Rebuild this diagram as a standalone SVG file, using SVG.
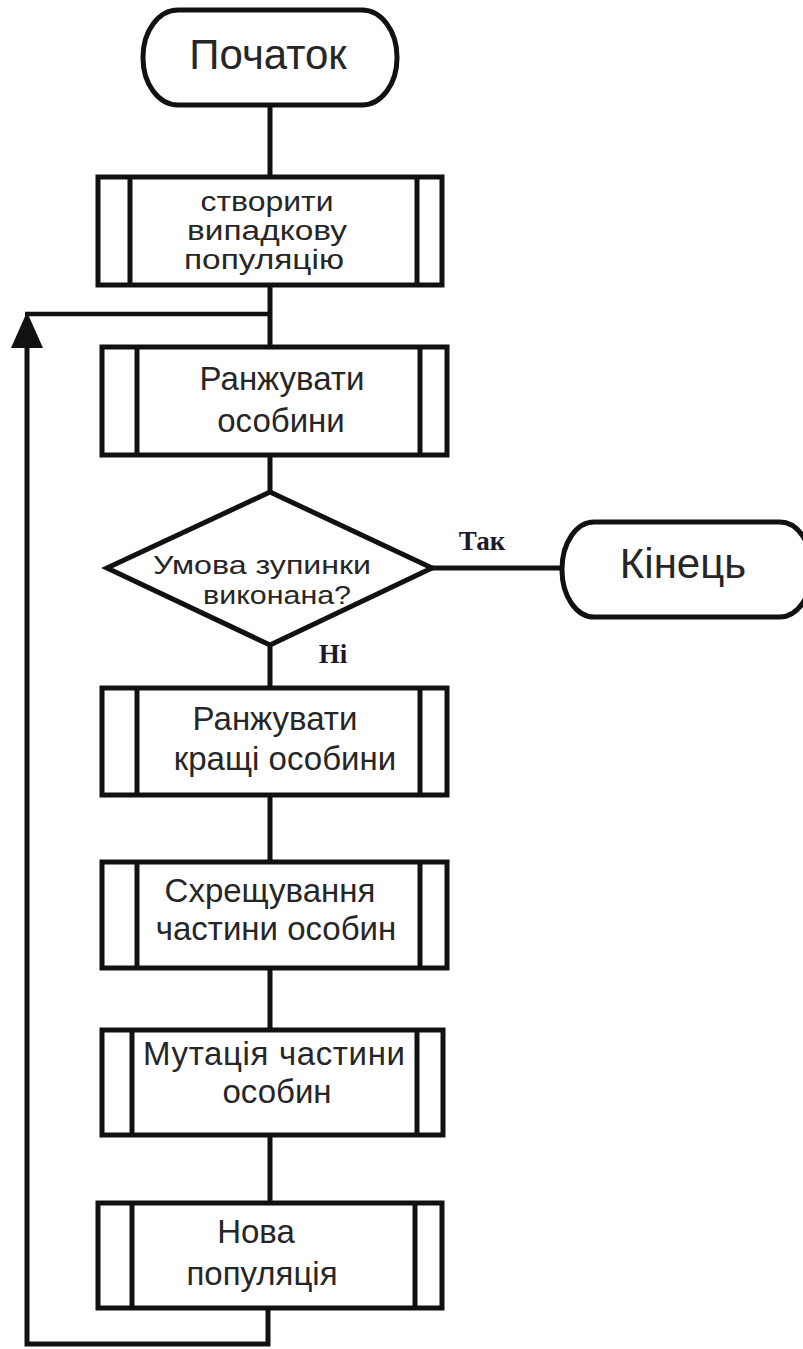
<svg xmlns="http://www.w3.org/2000/svg" width="803" height="1349" viewBox="0 0 803 1349">
  <style>
    .shape { fill: #ffffff; stroke: #111111; stroke-width: 5; }
    .bar { stroke: #111111; stroke-width: 5; }
    .wire { fill: none; stroke: #111111; stroke-width: 5; }
    .lbl { font-family: "Liberation Sans", Arial, sans-serif; fill: #262626; text-anchor: middle; }
    .box { font-size: 33px; }
    .tight { font-size: 27px; }
    .term { font-size: 42px; }
    .cond { font-size: 26px; }
    .yn { font-family: "Liberation Serif", "Times New Roman", serif; font-weight: bold; font-size: 27px; fill: #1a1a2a; text-anchor: middle; }
  </style>
  <defs>
    <marker id="arrow" markerUnits="userSpaceOnUse" markerWidth="36" markerHeight="32" viewBox="0 0 36 32" refX="0" refY="16" orient="auto">
      <path d="M0,0 L36,16 L0,32 z" fill="#111111"/>
    </marker>
  </defs>

  <rect width="803" height="1349" fill="#ffffff"/>

  <!-- connectors -->
  <g id="connectors">
    <line class="wire" x1="270" y1="105" x2="270" y2="177"/>
    <line class="wire" x1="270" y1="285" x2="270" y2="347"/>
    <line class="wire" x1="270" y1="455" x2="270" y2="492"/>
    <line class="wire" x1="270" y1="645" x2="270" y2="688"/>
    <line class="wire" x1="270" y1="795" x2="270" y2="862"/>
    <line class="wire" x1="270" y1="968" x2="270" y2="1030"/>
    <line class="wire" x1="270" y1="1135" x2="270" y2="1203"/>
    <line class="wire" x1="432" y1="568" x2="562" y2="568"/>
    <!-- loop back to the ranking step -->
    <path class="wire" d="M268,1308 V1344 H27 V348" marker-end="url(#arrow)"/>
    <line class="wire" x1="25" y1="314" x2="270" y2="314" style="stroke-width:4.5"/>
    <text class="yn" x="482" y="550">Так</text>
    <text class="yn" x="333" y="663">Ні</text>
  </g>

  <g id="start">
    <rect class="shape" x="143" y="10" width="254" height="95" rx="35" ry="47"/>
    <text class="lbl term" x="268" y="69">Початок</text>
  </g>

  <g id="init-population">
    <rect class="shape" x="98" y="177" width="344" height="108"/>
    <line class="bar" x1="130" y1="177" x2="130" y2="285"/>
    <line class="bar" x1="417" y1="177" x2="417" y2="285"/>
    <text class="lbl tight" x="267" y="211" textLength="133" lengthAdjust="spacingAndGlyphs">створити</text>
    <text class="lbl tight" x="267" y="240" textLength="160" lengthAdjust="spacingAndGlyphs">випадкову</text>
    <text class="lbl tight" x="264" y="269" textLength="160" lengthAdjust="spacingAndGlyphs">популяцію</text>
  </g>

  <g id="rank">
    <rect class="shape" x="102" y="347" width="345" height="108"/>
    <line class="bar" x1="137" y1="347" x2="137" y2="455"/>
    <line class="bar" x1="420" y1="347" x2="420" y2="455"/>
    <text class="lbl box" x="282" y="390">Ранжувати</text>
    <text class="lbl box" x="281" y="432">особини</text>
  </g>

  <g id="stop-check">
    <polygon class="shape" points="270,492 432,568 270,645 107,568"/>
    <text class="lbl cond" x="262" y="574" textLength="218" lengthAdjust="spacingAndGlyphs">Умова зупинки</text>
    <text class="lbl cond" x="277" y="604" textLength="148" lengthAdjust="spacingAndGlyphs">виконана?</text>
  </g>

  <g id="end">
    <rect class="shape" x="562" y="522" width="250" height="95" rx="32" ry="47"/>
    <text class="lbl term" x="683" y="578">Кінець</text>
  </g>

  <g id="rank-best">
    <rect class="shape" x="102" y="688" width="345" height="107"/>
    <line class="bar" x1="137" y1="688" x2="137" y2="795"/>
    <line class="bar" x1="420" y1="688" x2="420" y2="795"/>
    <text class="lbl box" x="275" y="730">Ранжувати</text>
    <text class="lbl box" x="285" y="770">кращі особини</text>
  </g>

  <g id="crossover">
    <rect class="shape" x="102" y="862" width="345" height="106"/>
    <line class="bar" x1="137" y1="862" x2="137" y2="968"/>
    <line class="bar" x1="420" y1="862" x2="420" y2="968"/>
    <text class="lbl box" x="270" y="902">Схрещування</text>
    <text class="lbl box" x="276" y="940">частини особин</text>
  </g>

  <g id="mutation">
    <rect class="shape" x="102" y="1030" width="341" height="105"/>
    <line class="bar" x1="132" y1="1030" x2="132" y2="1135"/>
    <line class="bar" x1="417" y1="1030" x2="417" y2="1135"/>
    <text class="lbl box" x="274" y="1065" textLength="262" lengthAdjust="spacing">Мутація частини</text>
    <text class="lbl box" x="277" y="1103">особин</text>
  </g>

  <g id="new-population">
    <rect class="shape" x="98" y="1203" width="344" height="105"/>
    <line class="bar" x1="132" y1="1203" x2="132" y2="1308"/>
    <line class="bar" x1="415" y1="1203" x2="415" y2="1308"/>
    <text class="lbl box" x="256" y="1243">Нова</text>
    <text class="lbl box" x="262" y="1285">популяція</text>
  </g>
</svg>
